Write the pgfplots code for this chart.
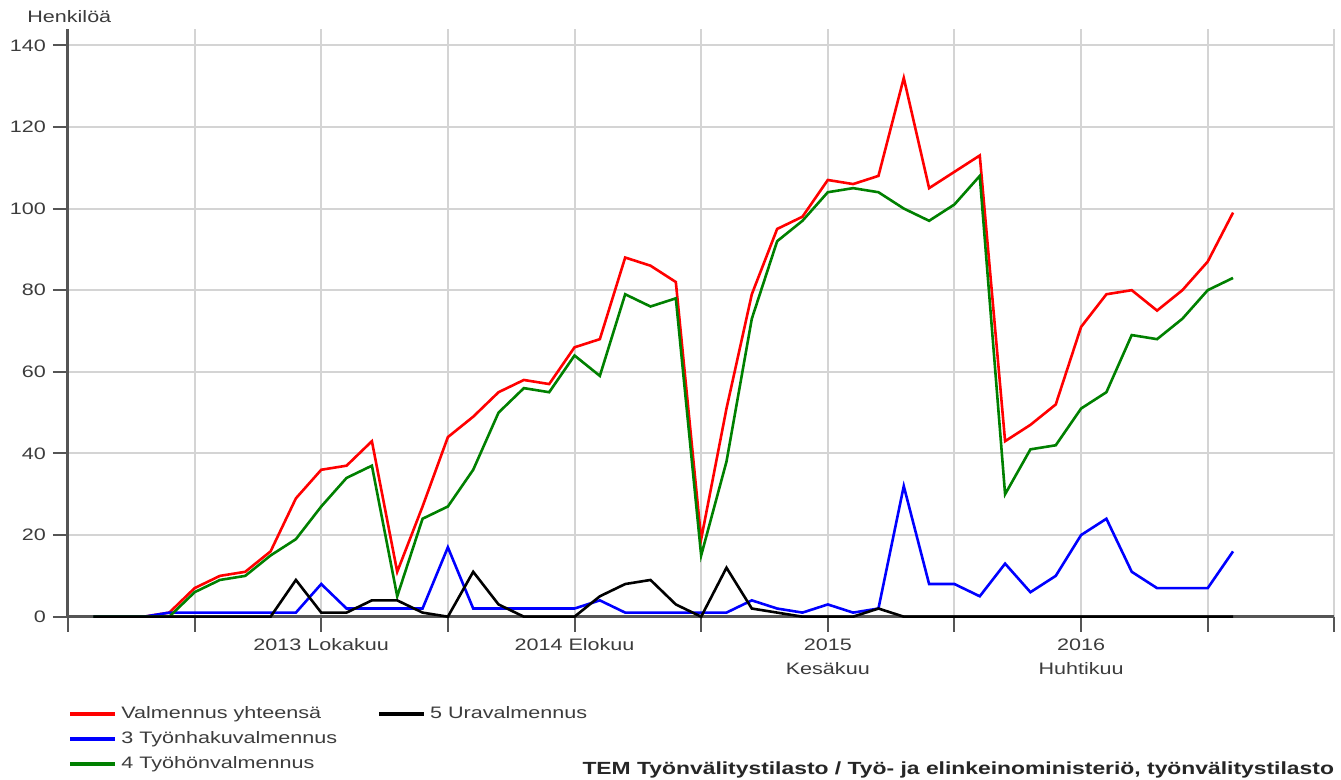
\documentclass[border=0pt]{standalone}
\usepackage{fontspec}
\setmainfont{Liberation Sans}[FakeStretch=1.3]
\usepackage{pgfplots}
\usepackage{pgfplotstable}
\pgfplotsset{compat=1.18}
\definecolor{axgray}{RGB}{85,85,85}
\definecolor{grgray}{RGB}{212,212,212}
\definecolor{txgray}{RGB}{60,60,60}
\definecolor{tgreen}{RGB}{0,128,0}
\definecolor{tred}{RGB}{255,0,0}
\definecolor{tblue}{RGB}{0,0,255}

\pgfplotstableread{
i  tot  hak  hon  ura
0  0    0    0    0
1  0    0    0    0
2  0    0    0    0
3  1    1    0    0
4  7    1    6    0
5  10   1    9    0
6  11   1    10   0
7  16   1    15   0
8  29   1    19   9
9  36   8    27   1
10 37   2    34   1
11 43   2    37   4
12 11   2    5    4
13 27   2    24   1
14 44   17   27   0
15 49   2    36   11
16 55   2    50   3
17 58   2    56   0
18 57   2    55   0
19 66   2    64   0
20 68   4    59   5
21 88   1    79   8
22 86   1    76   9
23 82   1    78   3
24 19   1    15   0
25 51   1    38   12
26 79   4    73   2
27 95   2    92   1
28 98   1    97   0
29 107  3    104  0
30 106  1    105  0
31 108  2    104  2
32 132  32   100  0
33 105  8    97   0
34 109  8    101  0
35 113  5    108  0
36 43   13   30   0
37 47   6    41   0
38 52   10   42   0
39 71   20   51   0
40 79   24   55   0
41 80   11   69   0
42 75   7    68   0
43 80   7    73   0
44 87   7    80   0
45 99   16   83   0
}\datatable

\begin{document}
\begin{tikzpicture}
\begin{axis}[
  scale only axis,
  width=633.5pt, height=294pt,
  xmin=-1, xmax=49, ymin=0, ymax=144,
  axis x line*=bottom, axis y line*=left,
  axis line style={axgray, line width=1.5pt},
  xtick={-1,4,...,49},
  xticklabels={,,2013 Lokakuu,,2014 Elokuu,,2015\\Kesäkuu,,2016\\Huhtikuu,,},
  xticklabel style={align=center, text=txgray, font=\fontsize{8.3}{12}\selectfont},
  ytick={0,20,...,140},
  yticklabel style={text=txgray, font=\fontsize{8.3}{10}\selectfont},
  /pgf/number format/assume math mode=true,
  tick align=outside,
  major tick length=7.5pt,
  tick style={axgray, line width=1pt},
  grid=major,
  major grid style={grgray, line width=1pt},
  clip=false,
  legend columns=2,
  legend cell align=left,
  legend style={draw=none, fill=none,
    at={(axis description cs:-0.0047,-0.1384)}, anchor=north west,
    font=\fontsize{8.3}{10}\selectfont, text=txgray,
    row sep=1pt,
    /tikz/every even column/.append style={column sep=18pt}},
  legend image code/.code={\draw[#1, line width=2pt] (0pt,0pt) -- (22.5pt,0pt);},
]
\addlegendimage{tred}\addlegendentry{Valmennus yhteensä}
\addlegendimage{black}\addlegendentry{5 Uravalmennus}
\addlegendimage{tblue}\addlegendentry{3 Työnhakuvalmennus}
\addlegendimage{empty legend}\addlegendentry{}
\addlegendimage{tgreen}\addlegendentry{4 Työhönvalmennus}

\addplot[tred, line width=1.3pt, forget plot] table[x=i, y=tot] {\datatable};
\addplot[tblue, line width=1.3pt, forget plot] table[x=i, y=hak] {\datatable};
\addplot[tgreen, line width=1.3pt, forget plot] table[x=i, y=hon] {\datatable};
\addplot[black, line width=1.3pt, forget plot] table[x=i, y=ura] {\datatable};

\node[anchor=west, text=txgray, font=\fontsize{8.3}{10}\selectfont, inner sep=0pt] at (axis description cs:-0.0324,1.0204) {Henkilöä};
\node[anchor=base east, text=black!85, font=\fontsize{8.8}{10}\selectfont\bfseries, inner sep=0pt] at (axis description cs:1,-0.2687) {TEM Työnvälitystilasto / Työ- ja elinkeinoministeriö, työnvälitystilasto};
\path (axis description cs:-0.05367,-0.27211) rectangle (axis description cs:1.00474,1.04932);
\end{axis}
\end{tikzpicture}
\end{document}
